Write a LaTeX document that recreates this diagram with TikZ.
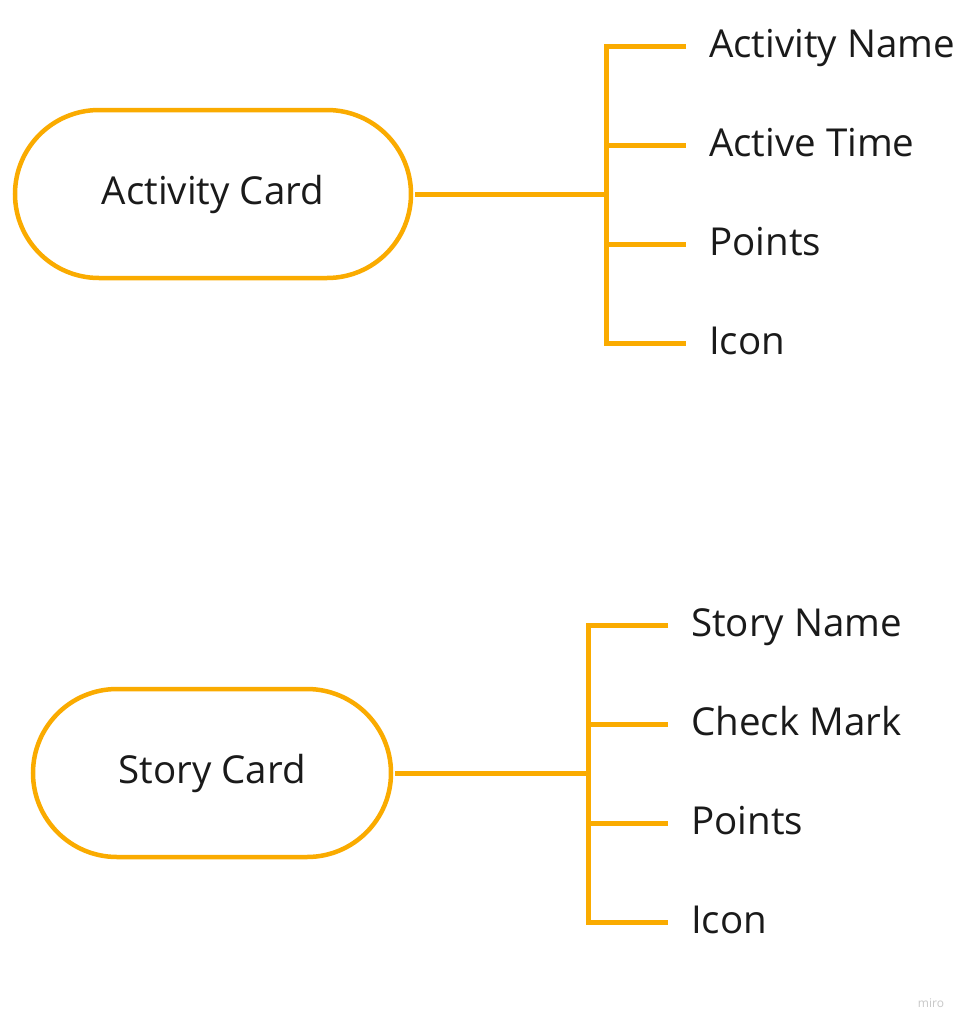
\documentclass[tikz,border=0pt]{standalone}
\usepackage{fontspec}
\setmainfont{Open Sans}
\usetikzlibrary{positioning}

\begin{document}
\begin{tikzpicture}[x=1pt,y=-1pt,
  card/.style={draw=mainColor,line width=4.5pt,rounded corners=84pt,minimum height=168pt,inner sep=0pt,outer sep=4pt,text=textColor,font=\fontsize{38.5}{46}\selectfont},
  wire/.style={draw=mainColor,line width=5pt,line join=miter},
  leaf/.style={text=textColor,inner sep=0pt,font=\fontsize{38.5}{46}\selectfont}]
\definecolor{mainColor}{RGB}{250,171,0}
\definecolor{textColor}{RGB}{26,26,26}
\definecolor{markColor}{RGB}{200,200,200}
\path[use as bounding box,fill=white] (0,0) rectangle (969,1031);

% activity card
\node[card,minimum width=396pt] (act) at (213,194) {Activity Card};
\coordinate (actfork) at (606,194);
\foreach \y/\lbl [count=\i] in {46/Activity Name,145/Active Time,244/Points,343/Icon}{
  \coordinate (actbus\i) at (606,\y);
  \coordinate (actend\i) at (686,\y);
  \node[leaf,right=23pt of actend\i,anchor=base west,yshift=-11pt] (actleaf\i) {\lbl};
}
\draw[wire] (act) -- (actfork);
\draw[wire] (actend1) -- (actbus1) -- (actbus4) -- (actend4);
\draw[wire] (actbus2) -- (actend2);
\draw[wire] (actbus3) -- (actend3);

% story card
\node[card,minimum width=358pt] (story) at (212,773) {Story Card};
\coordinate (storyfork) at (588,773);
\foreach \y/\lbl [count=\i] in {625/Story Name,724/Check Mark,823/Points,922/Icon}{
  \coordinate (storybus\i) at (588,\y);
  \coordinate (storyend\i) at (668,\y);
  \node[leaf,right=23pt of storyend\i,anchor=base west,yshift=-11pt] (storyleaf\i) {\lbl};
}
\draw[wire] (story) -- (storyfork);
\draw[wire] (storyend1) -- (storybus1) -- (storybus4) -- (storyend4);
\draw[wire] (storybus2) -- (storyend2);
\draw[wire] (storybus3) -- (storyend3);

\node[text=markColor,font=\fontsize{12}{14}\selectfont,anchor=base] (mark) at (931,1007) {miro};
\end{tikzpicture}
\end{document}
